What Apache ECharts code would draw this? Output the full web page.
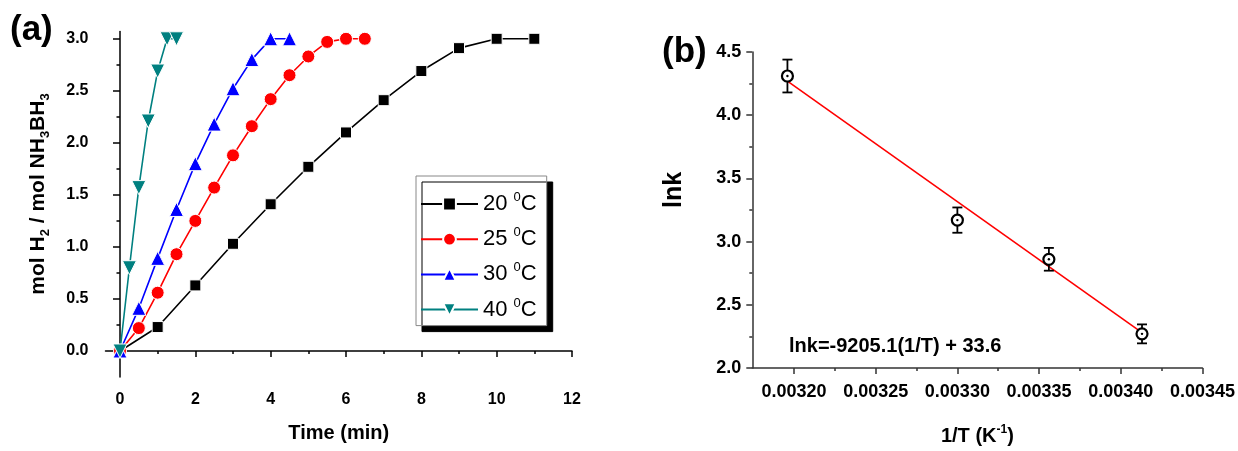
<!DOCTYPE html>
<html>
<head>
<meta charset="utf-8">
<script src="https://cdn.jsdelivr.net/npm/echarts@6/dist/echarts.min.js"></script>
<style>
  html, body { margin: 0; padding: 0; background: #fff; }
  #main { width: 1238px; height: 451px; }
</style>
</head>
<body>
<div id="main"></div>
<script>
// ---- data, panel (a): H2 released vs time ----
var names = ['20 °C', '25 °C', '30 °C', '40 °C'];
var time20 = [0, 1, 2, 3, 4, 5, 6, 7, 8, 9, 10, 11];
var h2_20 = [0, 0.23, 0.63, 1.03, 1.41, 1.77, 2.10, 2.41, 2.69, 2.91, 3.0, 3.0];
var time25 = [0, 0.5, 1, 1.5, 2, 2.5, 3, 3.5, 4, 4.5, 5, 5.5, 6, 6.5];
var h2_25 = [0, 0.22, 0.56, 0.93, 1.25, 1.57, 1.88, 2.16, 2.42, 2.65, 2.83, 2.97, 3.0, 3.0];
var time30 = [0, 0.5, 1, 1.5, 2, 2.5, 3, 3.5, 4, 4.5];
var h2_30 = [0, 0.41, 0.89, 1.36, 1.80, 2.18, 2.52, 2.80, 3.0, 3.0];
var time40 = [0, 0.25, 0.5, 0.75, 1, 1.25, 1.5];
var h2_40 = [0, 0.80, 1.57, 2.21, 2.69, 3.0, 3.0];
var xTicksA = [0, 2, 4, 6, 8, 10, 12];
var xMinorA = [1, 3, 5, 7, 9, 11];
var yTicksA = [0, 0.5, 1.0, 1.5, 2.0, 2.5, 3.0];
var yMinorA = [0.25, 0.75, 1.25, 1.75, 2.25, 2.75];

// ---- data, panel (b): Arrhenius plot ----
var invT = [0.003196, 0.003300, 0.003356, 0.003413];
var lnk = [4.31, 3.17, 2.86, 2.27];
var lnkErr = [0.13, 0.10, 0.09, 0.075];
var fitX = [0.003196, 0.003413];
var fitY = [4.27, 2.28];
var xTicksB = [0.00320, 0.00325, 0.00330, 0.00335, 0.00340, 0.00345];
var xMinorB = [0.003225, 0.003275, 0.003325, 0.003375, 0.003425];

var FONT = '"Liberation Sans", Arial, sans-serif';
var colors = ['#000000', '#ff0000', '#0000ff', '#008080'];
var symbols = ['rect', 'circle', 'triangle', 'path://M0,0 L10,0 L5,9 Z'];
var sizes = [11, 13, 14, 14];

function zip(a, b) {
    var out = [];
    for (var i = 0; i < a.length; i++) out.push([a[i], b[i]]);
    return out;
}

var chart = echarts.init(document.getElementById('main'), null, { renderer: 'canvas' });

var axisLineA = { show: true, lineStyle: { color: '#000', width: 1.5 } };
var axisLineB = { show: true, lineStyle: { color: '#333', width: 1.5 } };

var seriesA = [
    [time20, h2_20], [time25, h2_25], [time30, h2_30], [time40, h2_40]
].map(function (d, i) {
    return {
        name: names[i],
        type: 'line',
        xAxisIndex: 0,
        yAxisIndex: 0,
        data: zip(d[0], d[1]),
        symbol: symbols[i],
        symbolSize: sizes[i],
        showAllSymbol: true,
        color: colors[i],
        lineStyle: { color: colors[i], width: 1.6 },
        itemStyle: { color: colors[i], borderColor: '#fff', borderWidth: 1 },
        z: 3 + i
    };
});

var option = {
    animation: false,
    backgroundColor: '#fff',
    grid: [
        { left: 105.5, top: 31.5, width: 466.5, height: 345.5 },
        { left: 752.3, top: 52, width: 450.7, height: 330.3 }
    ],
    legend: {
        orient: 'vertical',
        left: 416,
        top: 176,
        padding: [15, 10, 5, 4],
        itemGap: 11.2,
        itemWidth: 57,
        itemHeight: 16,
        itemStyle: { borderColor: '#fff', borderWidth: 2 },
        backgroundColor: '#fff',
        borderColor: '#888',
        borderWidth: 1,
        shadowColor: '#000',
        shadowBlur: 0,
        shadowOffsetX: 6,
        shadowOffsetY: 6,
        data: names,
        formatter: function (n) {
            return '{t|' + n.replace(' °C', '') + ' }{s|0}{t|C}';
        },
        textStyle: {
            rich: {
                t: { fontFamily: FONT, fontSize: 22, color: '#000', lineHeight: 26 },
                s: { fontFamily: FONT, fontSize: 13, color: '#000', lineHeight: 24, verticalAlign: 'top' }
            }
        }
    },
    xAxis: [
        {
            type: 'value', gridIndex: 0, min: -0.385, max: 12,
            axisLine: axisLineA, splitLine: { show: false },
            axisTick: { show: true, length: 6, customValues: xTicksA, lineStyle: { width: 1.5, color: '#000' } },
            axisLabel: { customValues: xTicksA, margin: 15, fontFamily: FONT, fontWeight: 'bold', fontSize: 16, color: '#000' },
            name: 'Time (min)', nameLocation: 'middle', nameGap: 46,
            nameTextStyle: { fontFamily: FONT, fontWeight: 'bold', fontSize: 20, color: '#000' }
        },
        {
            type: 'value', gridIndex: 0, min: -0.385, max: 12, position: 'bottom',
            axisLine: { show: false }, splitLine: { show: false },
            axisTick: { show: true, length: 3, customValues: xMinorA, lineStyle: { width: 1.5, color: '#000' } },
            axisLabel: { show: false }
        },
        {
            type: 'value', gridIndex: 1, min: 0.0031745, max: 0.00345,
            axisLine: axisLineB, splitLine: { show: false },
            axisTick: { show: true, length: 6, customValues: xTicksB, lineStyle: { width: 1.5, color: '#333' } },
            axisLabel: {
                customValues: xTicksB, margin: 15,
                fontFamily: FONT, fontWeight: 'bold', fontSize: 18, color: '#000',
                formatter: function (v) { return v.toFixed(5); }
            },
            name: '{t|1/T (K}{s|-1}{t|)}', nameLocation: 'middle', nameGap: 56,
            nameTextStyle: {
                rich: {
                    t: { fontFamily: FONT, fontWeight: 'bold', fontSize: 20, color: '#000', lineHeight: 24 },
                    s: { fontFamily: FONT, fontWeight: 'bold', fontSize: 12, color: '#000', lineHeight: 24, verticalAlign: 'top' }
                }
            }
        },
        {
            type: 'value', gridIndex: 1, min: 0.0031745, max: 0.00345, position: 'bottom',
            axisLine: { show: false }, splitLine: { show: false },
            axisTick: { show: true, length: 3, customValues: xMinorB, lineStyle: { width: 1.5, color: '#333' } },
            axisLabel: { show: false }
        }
    ],
    yAxis: [
        {
            type: 'value', gridIndex: 0, min: -0.25, max: 3.07,
            axisLine: axisLineA, splitLine: { show: false },
            axisTick: { show: true, length: 7, customValues: yTicksA, lineStyle: { width: 1.5, color: '#000' } },
            axisLabel: {
                customValues: yTicksA, margin: 17,
                fontFamily: FONT, fontWeight: 'bold', fontSize: 16, color: '#000',
                formatter: function (v) { return v.toFixed(1); }
            }
        },
        {
            type: 'value', gridIndex: 0, min: -0.25, max: 3.07, position: 'left',
            axisLine: { show: false }, splitLine: { show: false },
            axisTick: { show: true, length: 3.5, customValues: yMinorA, lineStyle: { width: 1.5, color: '#000' } },
            axisLabel: { show: false }
        },
        {
            type: 'value', gridIndex: 1, min: 2.0, max: 4.5, interval: 0.5,
            axisLine: axisLineB, splitLine: { show: false },
            axisTick: { show: true, length: 6, lineStyle: { width: 1.5, color: '#333' } },
            minorTick: { show: true, splitNumber: 2, length: 3, lineStyle: { width: 1.5, color: '#333' } },
            axisLabel: {
                margin: 11,
                fontFamily: FONT, fontWeight: 'bold', fontSize: 18, color: '#000',
                formatter: function (v) { return v.toFixed(1); }
            }
        }
    ],
    graphic: [
        {
            type: 'text', left: 10, top: 13,
            style: { text: '(a)', font: 'bold 35px ' + FONT, fill: '#000' }
        },
        {
            type: 'text', left: 662, top: 35,
            style: { text: '(b)', font: 'bold 35px ' + FONT, fill: '#000' }
        },
        {
            type: 'text', x: 38, y: 194, rotation: Math.PI / 2,
            style: {
                text: '{t|mol H}{u|2}{t| / mol NH}{u|3}{t|BH}{u|3}',
                align: 'center', verticalAlign: 'middle',
                rich: {
                    t: { font: 'bold 21px ' + FONT, fill: '#000', lineHeight: 28 },
                    u: { font: 'bold 13px ' + FONT, fill: '#000', lineHeight: 28, verticalAlign: 'bottom' }
                }
            }
        },
        {
            type: 'text', x: 674, y: 190, rotation: Math.PI / 2,
            style: {
                text: 'lnk', font: 'bold 25px ' + FONT, fill: '#000',
                align: 'center', verticalAlign: 'middle'
            }
        },
        {
            type: 'text', left: 789, top: 336,
            style: { text: 'lnk=-9205.1(1/T) + 33.6', font: 'bold 20px ' + FONT, fill: '#000' }
        }
    ],
    series: seriesA.concat([
        {
            name: 'fit',
            type: 'line',
            xAxisIndex: 2,
            yAxisIndex: 2,
            data: zip(fitX, fitY),
            symbol: 'none',
            lineStyle: { color: '#ff0000', width: 1.6 },
            z: 2
        },
        {
            name: 'lnk',
            type: 'custom',
            xAxisIndex: 2,
            yAxisIndex: 2,
            data: invT.map(function (x, i) { return [x, lnk[i], lnkErr[i]]; }),
            z: 5,
            renderItem: function (params, api) {
                var x = api.value(0), y = api.value(1), e = api.value(2);
                var c = api.coord([x, y]);
                var top = api.coord([x, y + e]);
                var bot = api.coord([x, y - e]);
                var st = { stroke: '#000', lineWidth: 1.8 };
                return {
                    type: 'group',
                    children: [
                        { type: 'line', shape: { x1: c[0], y1: top[1], x2: c[0], y2: bot[1] }, style: st },
                        { type: 'line', shape: { x1: c[0] - 5, y1: top[1], x2: c[0] + 5, y2: top[1] }, style: st },
                        { type: 'line', shape: { x1: c[0] - 5, y1: bot[1], x2: c[0] + 5, y2: bot[1] }, style: st },
                        { type: 'circle', shape: { cx: c[0], cy: c[1], r: 5.5 }, style: { fill: '#fff', stroke: '#000', lineWidth: 2.2 } },
                        { type: 'circle', shape: { cx: c[0], cy: c[1], r: 1.2 }, style: { fill: '#000' } }
                    ]
                };
            }
        }
    ])
};

chart.setOption(option);
</script>
</body>
</html>
